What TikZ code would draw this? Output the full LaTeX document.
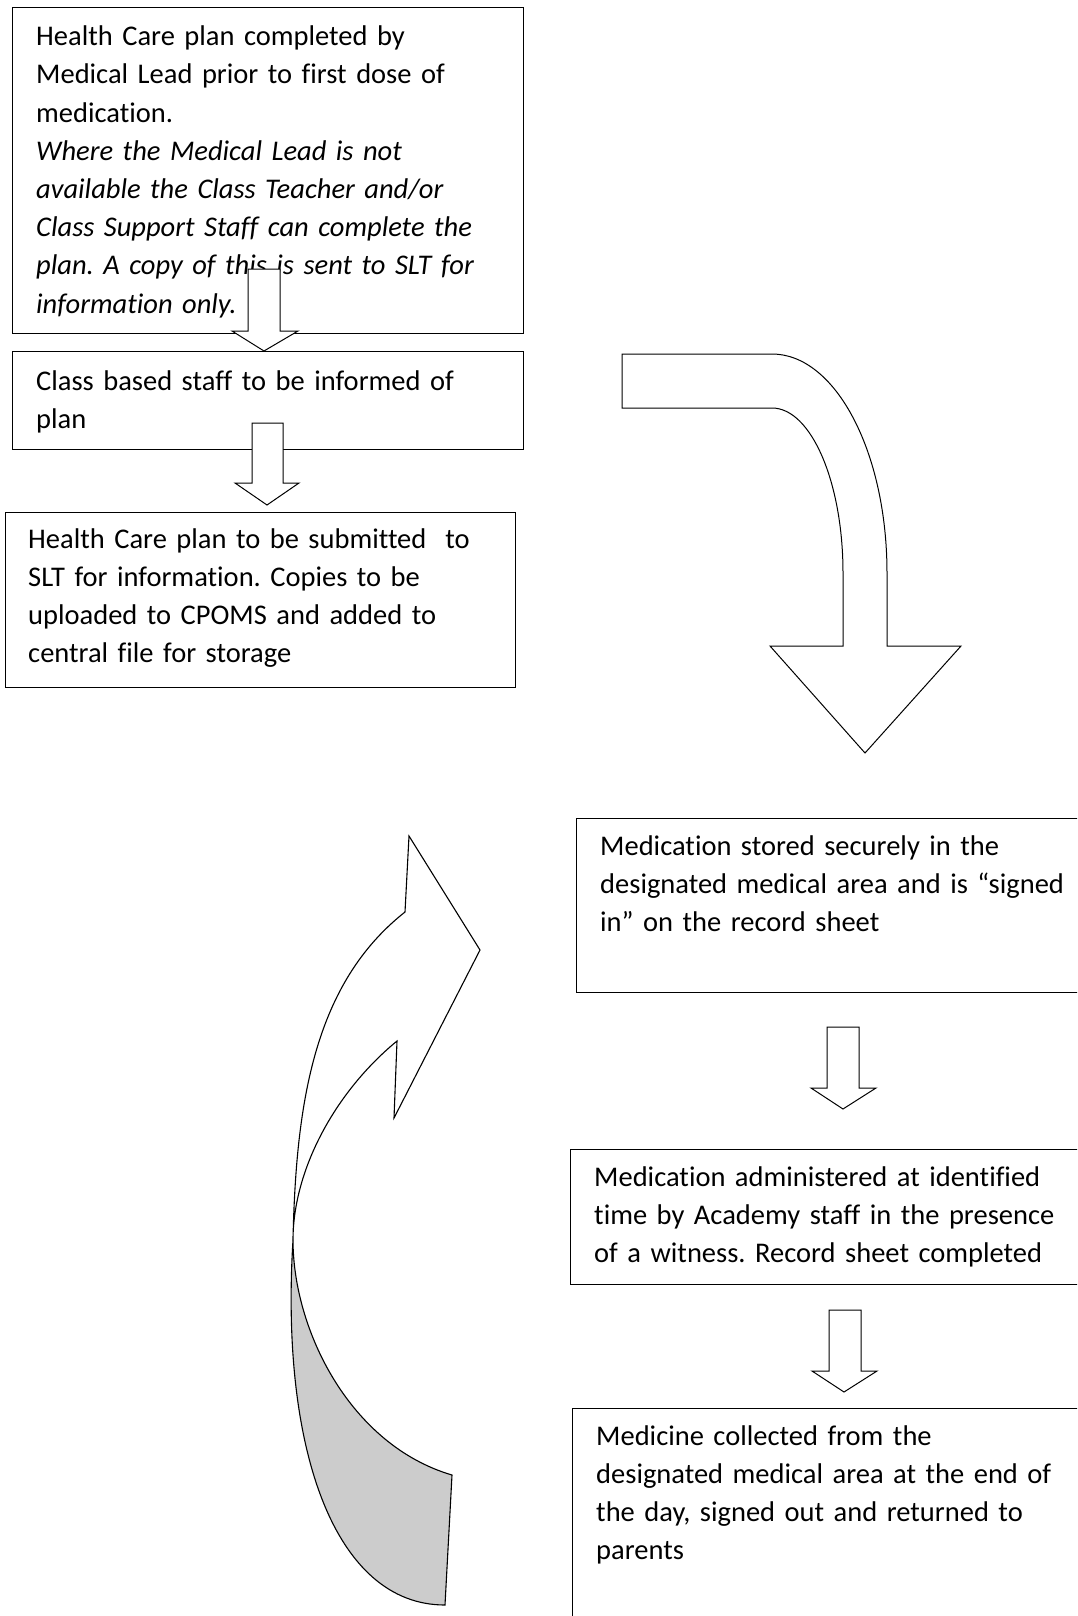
\documentclass[tikz,border=0pt]{standalone}
\usepackage{fontspec}
\setmainfont{Carlito}[Ligatures=NoCommon]
\frenchspacing
\begin{document}
\begin{tikzpicture}[x=1pt,y=-1pt,
  box/.style={draw, line width=1.2pt, rectangle, inner sep=0pt, anchor=north west},
  txt/.style={anchor=base west, inner sep=0pt, text width=700pt, align=left,
              font=\fontsize{28.5}{38.2}\selectfont},
  blk/.style={draw, fill=white, line width=1pt, line join=miter},
  shade/.style={draw, fill=gray!40, line width=1.1pt}]
\useasboundingbox (0,0) rectangle (1077,1616);
\fill[white] (0,0) rectangle (1077,1616);
\clip (0,0) rectangle (1077,1616);

% boxes
\node[box, minimum width=511pt, minimum height=326pt] (b1) at (12,7) {};
\node[box, minimum width=511pt, minimum height=98pt] (b2) at (12,351) {};
\node[box, minimum width=510pt, minimum height=175pt] (b3) at (5,512) {};
\node[box, minimum width=520pt, minimum height=174pt] (b4) at (576,818) {};
\node[box, minimum width=530pt, minimum height=135pt] (b5) at (570,1149) {};
\node[box, minimum width=530pt, minimum height=230pt] (b6) at (572,1408) {};

% texts
\node[txt] (t1) at (36,45.7) {Health Care plan completed by\\
Medical Lead prior to first dose of\\
medication.\\
\itshape Where the Medical Lead is not\\
\itshape available the Class Teacher and/or\\
\itshape Class Support Staff can complete the\\
\itshape plan. A copy of this is sent to SLT for\\
\itshape information only.};
\node[txt] (t2) at (36,390) {Class based staff to be informed of\\ plan};
\node[txt] (t3) at (28,548) {Health Care plan to be submitted\ \ to\\
SLT for information. Copies to be\\
uploaded to CPOMS and added to\\
central file for storage};
\node[txt] (t4) at (600,855) {Medication stored securely in the\\
designated medical area and is “signed\\
in” on the record sheet};
\node[txt] (t5) at (594,1186) {Medication administered at identified\\
time by Academy staff in the presence\\
of a witness. Record sheet completed};
\node[txt] (t6) at (596,1445) {Medicine collected from the\\
designated medical area at the end of\\
the day, signed out and returned to\\
parents};

% small block arrows
\draw[blk] (248,269) -- (280,269) -- (280,331) -- (298,331) -- (264,351) -- (232,331) -- (248,331) -- cycle;
\draw[blk] (252,423) -- (283,423) -- (283,483) -- (299,483) -- (267,505) -- (235,483) -- (252,483) -- cycle;
\draw[blk] (827,1027) -- (859,1027) -- (859,1088) -- (876,1088) -- (843,1109) -- (811,1088) -- (827,1088) -- cycle;
\draw[blk] (829,1310) -- (861,1310) -- (861,1371) -- (877,1371) -- (844,1392) -- (812,1371) -- (829,1371) -- cycle;

% bent arrow
\draw[blk] (622,354) -- (772,354) .. controls (835.5,354) and (887,452) .. (887,573)
  -- (887,646) -- (961,646) -- (865,753) -- (770,646) -- (843,646) -- (843,573)
  .. controls (843,482) and (811,408) .. (772,408) -- (622,408) -- cycle;

% curved arrow
\draw[shade] (293,1240) .. controls (293,1330) and (350,1445) .. (452,1475)
  -- (445,1605) .. controls (335,1605) and (280,1450) .. (293,1240) -- cycle;
\draw[blk, line width=1.1pt] (293,1240) .. controls (296,1100) and (315,983) .. (405,912)
  -- (409,836) -- (480,950) -- (394,1118) -- (397,1041)
  .. controls (335,1092) and (293,1170) .. (293,1240) -- cycle;
\end{tikzpicture}
\end{document}
